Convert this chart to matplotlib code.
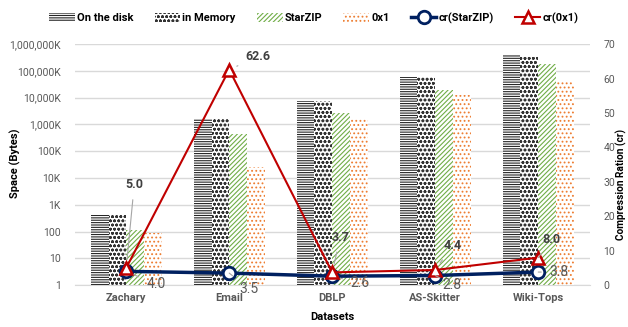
import numpy as np
import matplotlib
matplotlib.use("Agg")
import matplotlib.pyplot as plt

plt.rcParams['font.family'] = ['Roboto', 'DejaVu Sans']
plt.rcParams['hatch.linewidth'] = 0.8

datasets = ['Zachary', 'Email', 'DBLP', 'AS-Skitter', 'Wiki-Tops']
on_disk = [410, 1.66e6, 7.4e6, 59e6, 380e6]
in_memory = [400, 1.6e6, 7.3e6, 58e6, 370e6]
starzip = [112, 457e3, 2.8e6, 20e6, 177e6]
ox1 = [85, 26e3, 1.8e6, 13e6, 39e6]
cr_starzip = [4.0, 3.5, 2.6, 2.8, 3.8]
cr_0x1 = [5.0, 62.6, 3.7, 4.4, 8.0]

space_ticks = [1, 10, 100, 1e3, 1e4, 1e5, 1e6, 1e7, 1e8, 1e9]
space_labels = ['1', '10', '100', '1K', '10K', '100K', '1,000K', '10,000K',
                '100,000K', '1,000,000K']

gray = '#595959'
fig = plt.figure(figsize=(6.28, 3.27), dpi=100)
ax = fig.add_axes([0.119, 0.128, 0.820, 0.737])

x = np.arange(len(datasets))
w = 0.172
styles = [
    (on_disk, 'On the disk', '#262626', '-------'),
    (in_memory, 'in Memory', '#333333', 'oooo'),
    (starzip, 'StarZIP', '#70AD47', '///////'),
    (ox1, '0x1', '#ED7D31', '....'),
]
for i, (vals, name, col, hatch) in enumerate(styles):
    ax.bar(x + (i - 1.5) * w, vals, w, bottom=1, color='white', edgecolor=col,
           hatch=hatch, linewidth=0, label=name, zorder=2)

ax.set_yscale('log')
ax.set_ylim(1, 1e9)
ax.set_yticks(space_ticks)
ax.set_yticklabels(space_labels)
ax.minorticks_off()
ax.set_xlim(-0.5, 4.5)
ax.set_xticks(x)
ax.set_xticklabels(datasets, fontweight='bold')
ax.grid(axis='y', color='#D9D9D9', linewidth=1, zorder=0)
ax.set_axisbelow(True)
for s in ['top', 'right', 'left']:
    ax.spines[s].set_visible(False)
ax.spines['bottom'].set_color('#D9D9D9')
ax.tick_params(axis='y', length=0, colors=gray, labelsize=7.5, pad=10)
ax.tick_params(axis='x', length=0, colors=gray, labelsize=8, pad=6)
fig.text(0.024, 0.5, 'Space (Bytes)', rotation=90, ha='center', va='center',
         fontweight='bold', fontsize=8)
ax.set_xlabel('Datasets', fontweight='bold', fontsize=8, labelpad=6)

ax2 = ax.twinx()
ax2.set_ylim(0, 70)
ax2.set_yticks(range(0, 71, 10))
for s in ax2.spines.values():
    s.set_visible(False)
ax2.tick_params(axis='y', length=0, colors=gray, labelsize=7.5, pad=10)
fig.text(0.990, 0.437, 'Compression Ration (cr)', rotation=90, ha='center',
         va='center', fontweight='bold', fontsize=7.3)

ax2.plot(x, cr_starzip, color='#002060', linewidth=2.5, marker='o', markersize=9,
         markerfacecolor='white', markeredgewidth=2, label='cr(StarZIP)', zorder=4)
ax2.plot(x, cr_0x1, color='#C00000', linewidth=1.5, marker='^', markersize=9,
         markerfacecolor='white', markeredgewidth=1.8, label='cr(0x1)', zorder=5)

# data labels with leader lines
off_0x1 = [(8, 83), (29, 13), (8, 35), (17, 24), (13, 18)]
off_sz = [(30, -13), (20, -16), (28, -7), (17, -9), (21, 0)]
lead = dict(arrowstyle='-', color='#A6A6A6', linewidth=0.8, shrinkA=4, shrinkB=6)
for i in range(len(datasets)):
    ax2.annotate(f'{cr_0x1[i]:.1f}', (x[i], cr_0x1[i]), xytext=off_0x1[i],
                 textcoords='offset pixels', ha='center', va='center',
                 fontsize=9, fontweight='bold', color='#404040',
                 arrowprops=lead, zorder=6)
    ax2.annotate(f'{cr_starzip[i]:.1f}', (x[i], cr_starzip[i]), xytext=off_sz[i],
                 textcoords='offset pixels', ha='center', va='center',
                 fontsize=10, color=gray, arrowprops=lead, zorder=6)

h1, l1 = ax.get_legend_handles_labels()
h2, l2 = ax2.get_legend_handles_labels()
fig.legend(h1 + h2, l1 + l2, loc='center', bbox_to_anchor=(0.50, 0.945), ncol=6,
           frameon=False, prop={'weight': 'bold', 'size': 8},
           handlelength=2.3, handleheight=0.8, columnspacing=1.9, handletextpad=0.2)

fig.savefig('out.png', dpi=100)
